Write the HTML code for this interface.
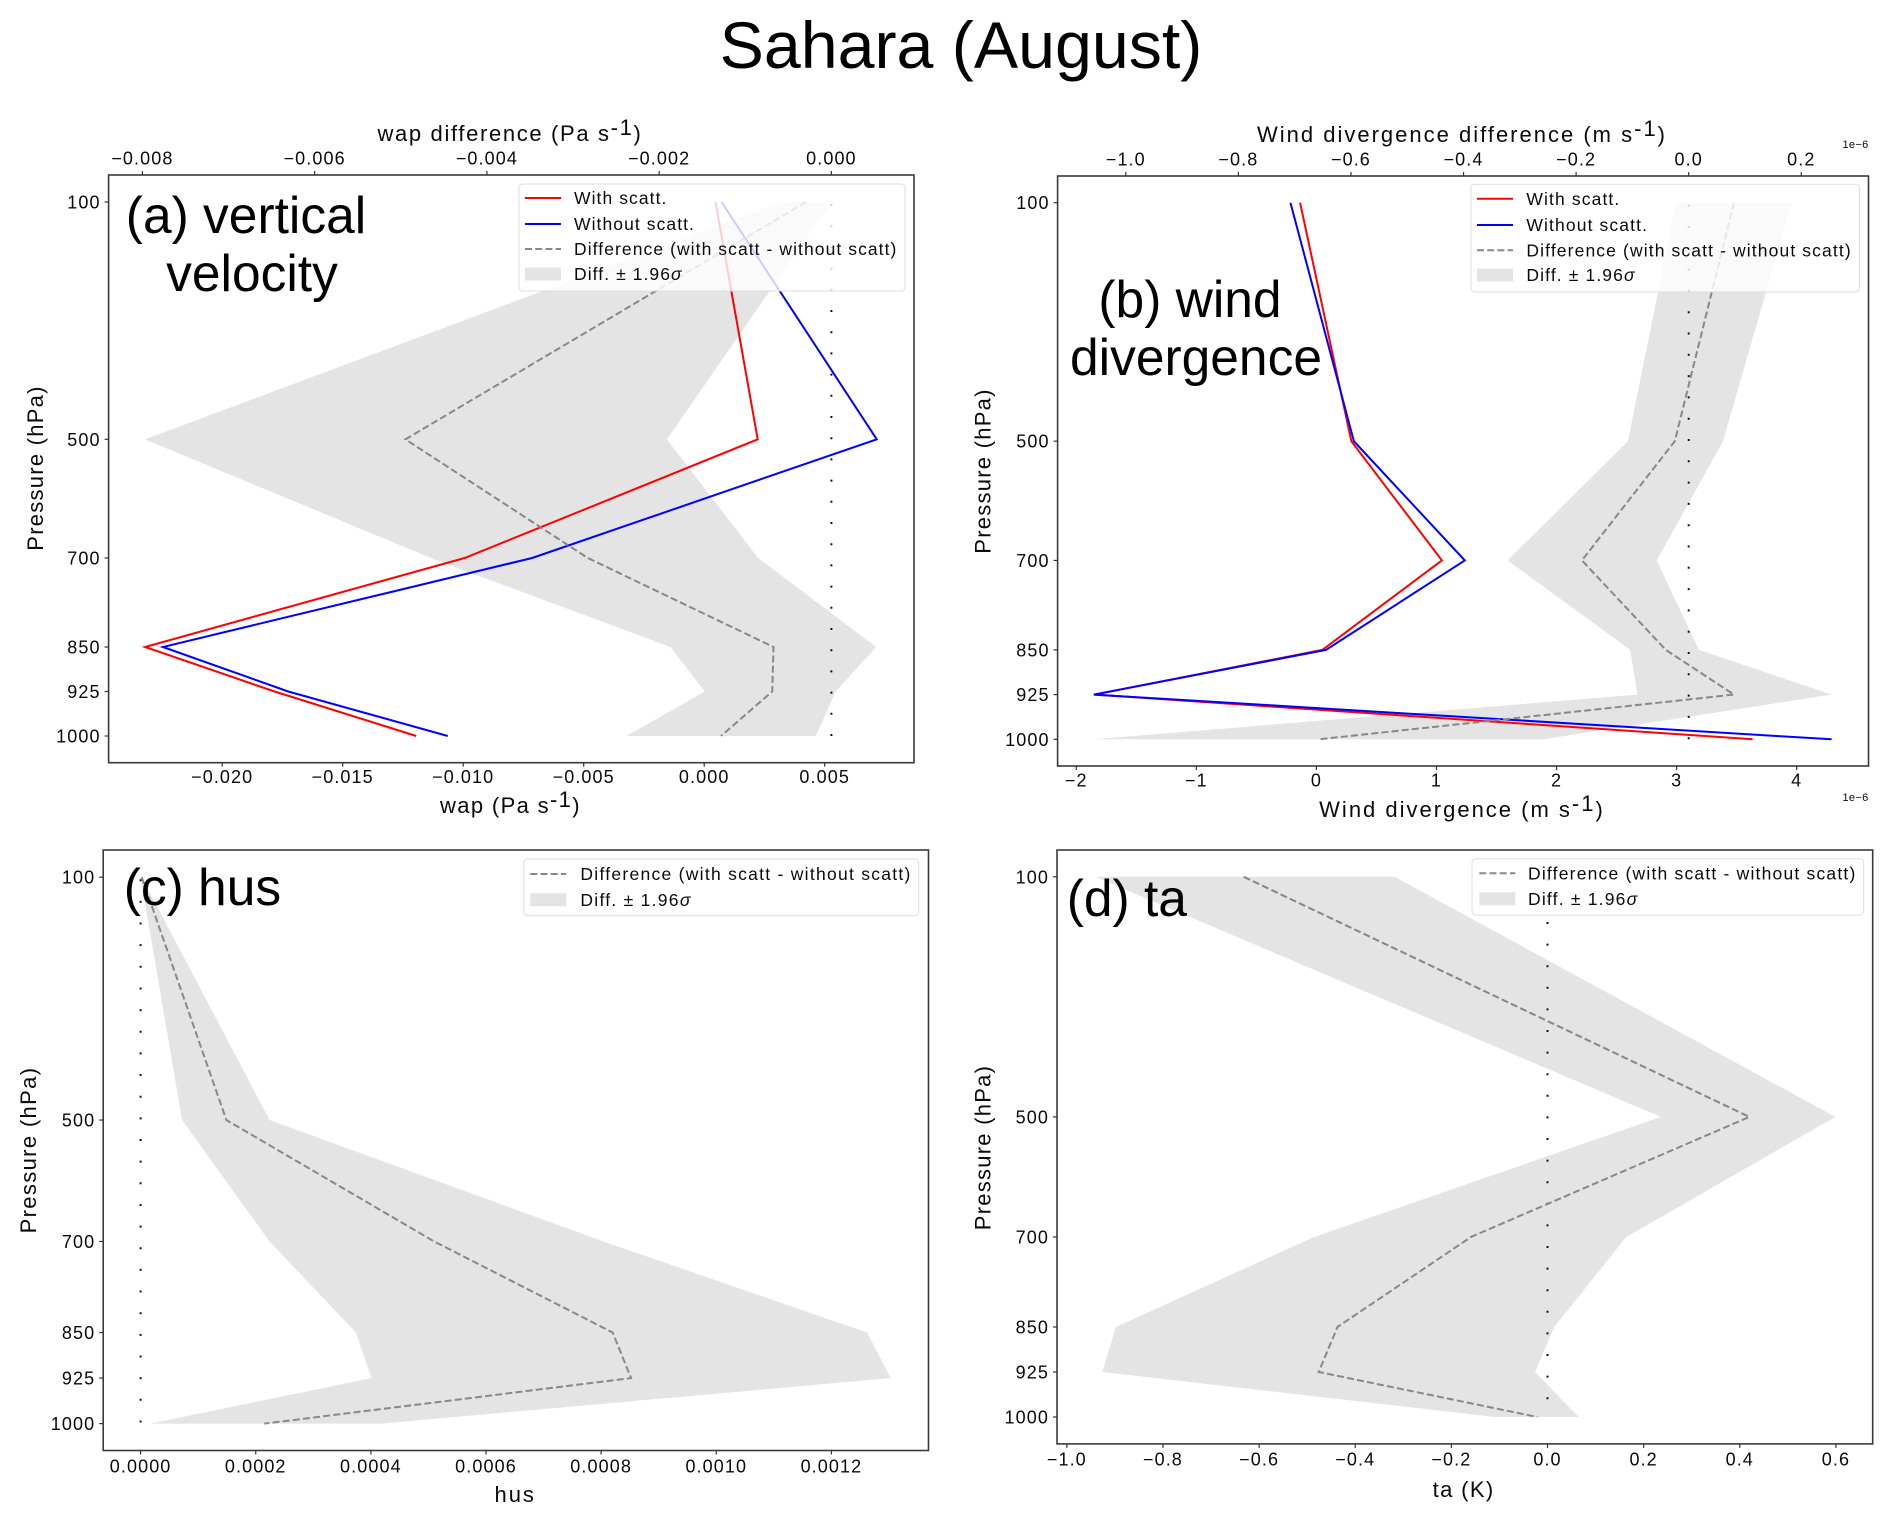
<!DOCTYPE html>
<html lang="en">
<head>
<meta charset="utf-8">
<title>Sahara (August)</title>
<style>
html,body{margin:0;padding:0;background:#fff;}
svg{display:block;font-family:"Liberation Sans",Arial,sans-serif;filter:blur(0.35px);}
text{fill:#0a0a0a;}
text.big{fill:#000;}
</style>
</head>
<body>
<svg id="figure" xmlns="http://www.w3.org/2000/svg" width="1892" height="1522" viewBox="0 0 1892 1522">
<rect x="0" y="0" width="1892" height="1522" fill="#ffffff"/>
<text class="big" x="961" y="68" font-size="66.3" text-anchor="middle">Sahara (August)</text>
</svg>
<script>
// Shared pressure levels and tick labels
var pressureLevels = [100, 500, 700, 850, 925, 1000];
var pressureTickLabels = ['100', '500', '700', '850', '925', '1000'];

// Panel (a) vertical velocity
var wapWith = [0.00047, 0.00222, -0.00994, -0.0232, -0.01783, -0.01195];
var wapWithout = [0.00072, 0.00716, -0.00714, -0.02246, -0.01726, -0.01064];
var wapDiff = [-0.000295, -0.004946, -0.002828, -0.000672, -0.000687, -0.001282];
var wapBandLow = [-0.00058, -0.00797, -0.00465, -0.00187, -0.00147, -0.00238];
var wapBandHigh = [0.0, -0.00191, -0.00085, 0.00052, 0.00005, -0.00018];
var wapBottomTicks = [-0.020, -0.015, -0.010, -0.005, 0.000, 0.005];
var wapBottomLabels = ['\u22120.020', '\u22120.015', '\u22120.010', '\u22120.005', '0.000', '0.005'];
var wapTopTicks = [-0.008, -0.006, -0.004, -0.002, 0.000];
var wapTopLabels = ['\u22120.008', '\u22120.006', '\u22120.004', '\u22120.002', '0.000'];

// Panel (b) wind divergence
var divWith = [-0.136, 0.291, 1.045, 0.05, -1.844, 3.633];
var divWithout = [-0.216, 0.312, 1.236, 0.08, -1.854, 4.291];
var divDiff = [0.0804, -0.0247, -0.1897, -0.0407, 0.0804, -0.657];
var divBandLow = [-0.0225, -0.108, -0.3215, -0.104, -0.091, -1.057];
var divBandHigh = [0.183, 0.061, -0.0568, 0.0182, 0.254, -0.258];
var divBottomTicks = [-2, -1, 0, 1, 2, 3, 4];
var divBottomLabels = ['\u22122', '\u22121', '0', '1', '2', '3', '4'];
var divTopTicks = [-1.0, -0.8, -0.6, -0.4, -0.2, 0.0, 0.2];
var divTopLabels = ['\u22121.0', '\u22120.8', '\u22120.6', '\u22120.4', '\u22120.2', '0.0', '0.2'];

// Panel (c) hus
var husDiff = [0.000002, 0.000149, 0.00051, 0.00082, 0.000852, 0.000215];
var husBandLow = [0.0, 0.000072, 0.000224, 0.000374, 0.000401, 0.0000168];
var husBandHigh = [0.000002, 0.000224, 0.000804, 0.001262, 0.001303, 0.000418];
var husBottomTicks = [0.0000, 0.0002, 0.0004, 0.0006, 0.0008, 0.0010, 0.0012];
var husBottomLabels = ['0.0000', '0.0002', '0.0004', '0.0006', '0.0008', '0.0010', '0.0012'];

// Panel (d) ta
var taDiff = [-0.632, 0.42, -0.159, -0.437, -0.476, -0.021];
var taBandLow = [-0.941, 0.236, -0.485, -0.898, -0.926, -0.109];
var taBandHigh = [-0.318, 0.599, 0.164, 0.014, -0.026, 0.065];
var taBottomTicks = [-1.0, -0.8, -0.6, -0.4, -0.2, 0.0, 0.2, 0.4, 0.6];
var taBottomLabels = ['\u22121.0', '\u22120.8', '\u22120.6', '\u22120.4', '\u22120.2', '0.0', '0.2', '0.4', '0.6'];

var svg = document.getElementById('figure');
var NS = 'http://www.w3.org/2000/svg';

function mk(parent, tag, attrs, text) {
  var el = document.createElementNS(NS, tag);
  for (var k in attrs) { el.setAttribute(k, attrs[k]); }
  if (text !== undefined) { el.textContent = text; }
  parent.appendChild(el);
  return el;
}

// Linear axis built from the pixel positions of two reference values.
function linearAxis(v0, px0, v1, px1) {
  return function (v) { return px0 + (v - v0) * (px1 - px0) / (v1 - v0); };
}

function pathFrom(xs, yFn, xFn) {
  return xs.map(function (v, i) {
    return (i ? 'L' : 'M') + xFn(v).toFixed(2) + ' ' + yFn(pressureLevels[i]).toFixed(2);
  }).join(' ');
}

function drawAxisLabel(g, opt, name) {
  var t = mk(g, 'text', {
    x: opt.x, y: opt.y, 'font-size': 22, 'text-anchor': 'middle',
    'letter-spacing': opt.ls === undefined ? 1.25 : opt.ls
  });
  
  
  if (opt.rotate) { t.setAttribute('transform', 'rotate(-90 ' + opt.x + ' ' + opt.y + ')'); }
  t.appendChild(document.createTextNode(opt.pre));
  if (opt.sup) {
    mk(t, 'tspan', { dy: -6, 'font-size': 22 }, opt.sup);
    mk(t, 'tspan', { dy: 6 }, opt.post);
  }
}

function drawPanel(c) {
  var g = mk(svg, 'g', {});
  
  

  var yAxis = linearAxis(100, c.y100, 1000, c.y1000);
  var xB = linearAxis(c.bRef[0], c.bRef[1], c.bRef[2], c.bRef[3]);
  var xD = c.tRef ? linearAxis(c.tRef[0], c.tRef[1], c.tRef[2], c.tRef[3]) : xB;

  // uncertainty band
  var bandPts = [];
  c.bandLow.forEach(function (v, i) { bandPts.push(xD(v).toFixed(2) + ',' + yAxis(pressureLevels[i]).toFixed(2)); });
  for (var i = c.bandHigh.length - 1; i >= 0; i--) {
    bandPts.push(xD(c.bandHigh[i]).toFixed(2) + ',' + yAxis(pressureLevels[i]).toFixed(2));
  }
  var band = mk(g, 'polygon', { points: bandPts.join(' '), fill: '#e4e4e4' });
  
  

  // zero reference line (dotted)
  var zero = mk(g, 'line', {
    x1: xD(0), x2: xD(0), y1: c.y100 + 2, y2: c.y1000,
    stroke: '#111', 'stroke-width': 2, 'stroke-dasharray': '2 ' + (c.dotGap - 2)
  });
  
  

  // series
  if (c.withS) {
    var red = mk(g, 'path', { d: pathFrom(c.withS, yAxis, xB), fill: 'none', stroke: '#ff0000', 'stroke-width': 2, 'stroke-linejoin': 'miter' });
    
    
    var blue = mk(g, 'path', { d: pathFrom(c.withoutS, yAxis, xB), fill: 'none', stroke: '#0000ff', 'stroke-width': 2, 'stroke-linejoin': 'miter' });
    
    
  }
  var dl = mk(g, 'path', { d: pathFrom(c.diff, yAxis, xD), fill: 'none', stroke: '#888888', 'stroke-width': 2, 'stroke-dasharray': '7 3.2' });
  
  

  // frame
  var frame = mk(g, 'rect', { x: c.left, y: c.top, width: c.right - c.left, height: c.bottom - c.top, fill: 'none', stroke: '#3a3a3a', 'stroke-width': 1.6 });
  
  

  // y axis
  pressureLevels.forEach(function (p, i) {
    var y = yAxis(p);
    var tick = mk(g, 'line', { x1: c.left - 4, x2: c.left, y1: y, y2: y, stroke: '#333', 'stroke-width': 1.2 });
    
    
    var lab = mk(g, 'text', { x: c.left - 8, y: y + 6.5, 'font-size': 18, 'text-anchor': 'end', 'letter-spacing': 1.1 }, pressureTickLabels[i]);
    
    
  });

  // bottom x axis
  c.bTicks.forEach(function (v, i) {
    var x = xB(v);
    var tick = mk(g, 'line', { x1: x, x2: x, y1: c.bottom, y2: c.bottom + 4, stroke: '#333', 'stroke-width': 1.2 });
    
    
    var lab = mk(g, 'text', { x: x, y: c.bTickY, 'font-size': 18, 'text-anchor': 'middle', 'letter-spacing': 1.1 }, c.bLabels[i]);
    
    
  });

  // top x axis
  if (c.tTicks) {
    c.tTicks.forEach(function (v, i) {
      var x = xD(v);
      var tick = mk(g, 'line', { x1: x, x2: x, y1: c.top - 4, y2: c.top, stroke: '#333', 'stroke-width': 1.2 });
      
      
      var lab = mk(g, 'text', { x: x, y: c.tTickY, 'font-size': 18, 'text-anchor': 'middle', 'letter-spacing': 1.1 }, c.tLabels[i]);
      
      
    });
    drawAxisLabel(g, c.topLabel, 'top-x-axis-title');
  }
  drawAxisLabel(g, c.xLabel, 'x-axis-title');
  drawAxisLabel(g, c.yLabel, 'y-axis-title');

  // offset text
  if (c.offsets) {
    var o1 = mk(g, 'text', { x: c.right, y: c.offsets[0], 'font-size': 11, 'text-anchor': 'end', 'letter-spacing': 0.3 }, '1e\u22126');
    
    
    var o2 = mk(g, 'text', { x: c.right, y: c.offsets[1], 'font-size': 11, 'text-anchor': 'end', 'letter-spacing': 0.3 }, '1e\u22126');
    
    
  }

  // legend
  var L = c.legend;
  var lg = mk(g, 'g', {});
  
  
  var box = mk(lg, 'rect', { x: L.x, y: L.y, width: L.w, height: L.h, rx: 4, ry: 4, fill: '#ffffff', 'fill-opacity': 0.8, stroke: '#dcdcdc', 'stroke-opacity': 0.8, 'stroke-width': 1.2 });
  
  
  var row = 0;
  function legendText(y, name) {
    var t = mk(lg, 'text', { x: L.tx, y: y + 6.2, 'font-size': 17.5, 'letter-spacing': L.ls });
    
    
    return t;
  }
  if (c.withS) {
    var y1 = L.rows[row++];
    var s1 = mk(lg, 'line', { x1: L.sx, x2: L.sx + 36, y1: y1, y2: y1, stroke: '#ff0000', 'stroke-width': 2 });
    
    
    legendText(y1, 'legend-entry-with-scatt').textContent = 'With scatt.';
    var y2 = L.rows[row++];
    var s2 = mk(lg, 'line', { x1: L.sx, x2: L.sx + 36, y1: y2, y2: y2, stroke: '#0000ff', 'stroke-width': 2 });
    
    
    legendText(y2, 'legend-entry-without-scatt').textContent = 'Without scatt.';
  }
  var y3 = L.rows[row++];
  var s3 = mk(lg, 'line', { x1: L.sx, x2: L.sx + 36, y1: y3, y2: y3, stroke: '#888888', 'stroke-width': 2, 'stroke-dasharray': '7 3.2' });
  
  
  legendText(y3, 'legend-entry-difference').textContent = 'Difference (with scatt - without scatt)';
  var y4 = L.rows[row++];
  var s4 = mk(lg, 'rect', { x: L.sx, y: y4 - 6.5, width: 36, height: 13, fill: '#e4e4e4' });
  
  
  var t4 = legendText(y4, 'legend-entry-band');
  t4.appendChild(document.createTextNode('Diff. \u00b1 1.96'));
  mk(t4, 'tspan', { 'font-style': 'italic' }, '\u03c3');

  // panel annotation
  c.note.forEach(function (n) {
    var t = mk(g, 'text', { 'class': 'big', x: n.x, y: n.y, 'font-size': 51.5, 'text-anchor': n.anchor || 'middle' }, n.t);
    
    
  });
}

drawPanel({
  id: 'vertical-velocity',
  left: 108.6, right: 914, top: 175, bottom: 762.7, y100: 202, y1000: 736,
  bRef: [0, 704.2, 0.005, 824.7], tRef: [0, 831.4, -0.008, 142.4],
  withS: wapWith, withoutS: wapWithout, diff: wapDiff, bandLow: wapBandLow, bandHigh: wapBandHigh,
  bTicks: wapBottomTicks, bLabels: wapBottomLabels, bTickY: 783,
  tTicks: wapTopTicks, tLabels: wapTopLabels, tTickY: 164.5,
  dotGap: 21.2,
  topLabel: { x: 510, y: 141, pre: 'wap difference (Pa s', sup: '-1', post: ')', ls: 1.65 },
  xLabel: { x: 510.5, y: 813, pre: 'wap (Pa s', sup: '-1', post: ')', ls: 1.35 },
  yLabel: { x: 43, y: 468, pre: 'Pressure (hPa)', rotate: true },
  legend: { x: 519, y: 184, w: 386, h: 107, sx: 525, tx: 574, ls: 1.07, rows: [198, 224, 249, 274] },
  note: [{ x: 246, y: 233, t: '(a) vertical' }, { x: 252, y: 291, t: 'velocity' }]
});

drawPanel({
  id: 'wind-divergence',
  left: 1057.6, right: 1868.5, top: 176, bottom: 766, y100: 202.7, y1000: 739.3,
  bRef: [0, 1316.4, 4, 1796.7], tRef: [0, 1688.7, -1, 1125.8],
  withS: divWith, withoutS: divWithout, diff: divDiff, bandLow: divBandLow, bandHigh: divBandHigh,
  bTicks: divBottomTicks, bLabels: divBottomLabels, bTickY: 786.5,
  tTicks: divTopTicks, tLabels: divTopLabels, tTickY: 165.5,
  dotGap: 21.3,
  topLabel: { x: 1462, y: 142, pre: 'Wind divergence difference (m s', sup: '-1', post: ')', ls: 2 },
  xLabel: { x: 1462, y: 817, pre: 'Wind divergence (m s', sup: '-1', post: ')', ls: 2 },
  yLabel: { x: 990.5, y: 471, pre: 'Pressure (hPa)', rotate: true },
  offsets: [148, 801],
  legend: { x: 1471, y: 184.3, w: 388.5, h: 107.7, sx: 1477, tx: 1526.4, ls: 1.12, rows: [198.7, 225, 250.3, 275] },
  note: [{ x: 1190, y: 317, t: '(b) wind' }, { x: 1196, y: 375, t: 'divergence' }]
});

drawPanel({
  id: 'hus',
  left: 103.2, right: 928.5, top: 850, bottom: 1450.5, y100: 877.2, y1000: 1423.6,
  bRef: [0, 140.6, 0.0012, 831.4],
  diff: husDiff, bandLow: husBandLow, bandHigh: husBandHigh,
  bTicks: husBottomTicks, bLabels: husBottomLabels, bTickY: 1472.5,
  dotGap: 21.65,
  xLabel: { x: 515.2, y: 1502, pre: 'hus', ls: 2 },
  yLabel: { x: 36, y: 1150, pre: 'Pressure (hPa)', rotate: true, ls: 1.35 },
  legend: { x: 523.7, y: 859, w: 395, h: 56.6, sx: 530.3, tx: 580.4, ls: 1.27, rows: [874, 899.7] },
  note: [{ x: 123.7, y: 905, t: '(c) hus', anchor: 'start' }]
});

drawPanel({
  id: 'ta',
  left: 1057, right: 1872.7, top: 850, bottom: 1443.9, y100: 876.8, y1000: 1417,
  bRef: [0, 1547.5, 0.6, 1835.9],
  diff: taDiff, bandLow: taBandLow, bandHigh: taBandHigh,
  bTicks: taBottomTicks, bLabels: taBottomLabels, bTickY: 1465.5,
  dotGap: 21.6,
  xLabel: { x: 1463.6, y: 1497, pre: 'ta (K)', ls: 1.35 },
  yLabel: { x: 990.5, y: 1147.5, pre: 'Pressure (hPa)', rotate: true },
  legend: { x: 1472, y: 858.7, w: 391.6, h: 56.5, sx: 1479.3, tx: 1528, ls: 1.2, rows: [873.2, 898.8] },
  note: [{ x: 1066.7, y: 916, t: '(d) ta', anchor: 'start' }]
});
</script>
</body>
</html>
